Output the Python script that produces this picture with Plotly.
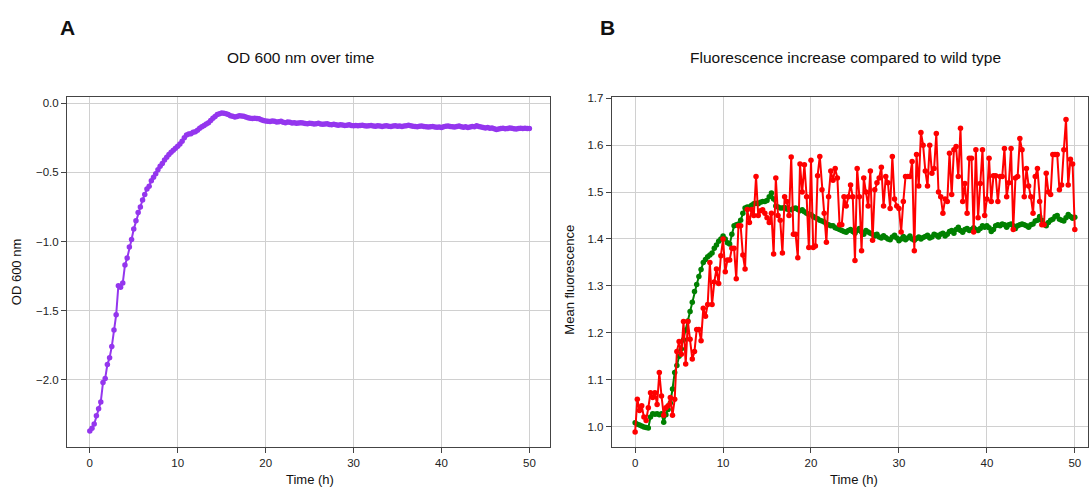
import plotly.graph_objects as go

# ---------------- data ----------------
od600 = [
    -2.37, -2.35, -2.32, -2.26, -2.21, -2.16, -2.02, -1.99, -1.89, -1.84, -1.76, -1.64, -1.53,
    -1.32, -1.33, -1.30, -1.17, -1.12, -1.04, -0.985, -0.91, -0.85, -0.79, -0.75, -0.70,
    -0.66, -0.62, -0.60, -0.56, -0.535, -0.51, -0.48, -0.455, -0.435, -0.41, -0.39, -0.37,
    -0.355, -0.34, -0.325, -0.31, -0.295, -0.275, -0.25, -0.23, -0.222, -0.22, -0.21, -0.205,
    -0.195, -0.18, -0.17, -0.16, -0.15, -0.14, -0.125, -0.108, -0.095, -0.082, -0.075, -0.07,
    -0.072, -0.075, -0.082, -0.09, -0.094, -0.1, -0.095, -0.09, -0.092, -0.094, -0.1, -0.104,
    -0.108, -0.11, -0.108, -0.11, -0.112, -0.12, -0.125, -0.128,
    -0.13, -0.132, -0.128, -0.13, -0.135, -0.133, -0.13, -0.138, -0.14, -0.136, -0.138, -0.142,
    -0.14, -0.145, -0.142, -0.14,
    -0.143, -0.146, -0.148, -0.145, -0.147, -0.15, -0.148, -0.145, -0.15, -0.152, -0.15, -0.148,
    -0.153, -0.155, -0.152, -0.156, -0.158, -0.155, -0.157, -0.16, -0.158, -0.156, -0.16, -0.162,
    -0.16, -0.163, -0.16, -0.158, -0.162, -0.165, -0.163, -0.16, -0.164, -0.166, -0.162, -0.165,
    -0.168, -0.164, -0.162, -0.166, -0.168, -0.165, -0.163, -0.167,
    -0.165, -0.168, -0.165, -0.162, -0.158, -0.163, -0.166, -0.168, -0.17, -0.167, -0.165, -0.168,
    -0.17, -0.172, -0.17, -0.168, -0.172, -0.174, -0.172, -0.175,
    -0.17, -0.166, -0.165, -0.168, -0.17, -0.172, -0.168, -0.165, -0.17, -0.173, -0.17, -0.175,
    -0.172, -0.168, -0.17, -0.162, -0.168, -0.172, -0.176, -0.178,
    -0.175, -0.18, -0.178, -0.185, -0.19, -0.186, -0.182, -0.18, -0.184, -0.182, -0.178, -0.18,
    -0.184, -0.186, -0.183, -0.18, -0.182, -0.18, -0.183, -0.182,
]

fluor_wt_ref = [
    1.008, 1.005, 1.003, 1.001, 0.999, 0.998, 0.997, 1.02, 1.027, 1.026, 1.027, 1.025, 1.027,
    1.009, 1.025, 1.036, 1.05, 1.08, 1.115, 1.13, 1.15, 1.165, 1.185, 1.205, 1.225,
    1.245, 1.265, 1.288, 1.303, 1.32, 1.335, 1.35, 1.356, 1.362, 1.366, 1.37, 1.38,
    1.387, 1.395, 1.40, 1.406, 1.40, 1.392, 1.389, 1.41, 1.428, 1.43, 1.432, 1.44,
    1.455, 1.466, 1.468, 1.468, 1.472, 1.475, 1.476, 1.475, 1.478, 1.48, 1.48, 1.482,
    1.49, 1.498, 1.485, 1.47, 1.468, 1.466, 1.466, 1.467, 1.464, 1.462, 1.462, 1.465,
    1.466, 1.463, 1.46, 1.462, 1.458, 1.455, 1.452, 1.452,
    1.448, 1.445, 1.443, 1.44, 1.438, 1.436, 1.432, 1.43, 1.428, 1.428, 1.424, 1.422,
    1.42, 1.418, 1.416, 1.414, 1.418, 1.42, 1.416, 1.412, 1.418, 1.422, 1.415, 1.41,
    1.418, 1.415, 1.412, 1.41, 1.406, 1.41, 1.404, 1.402, 1.407, 1.403, 1.40, 1.398,
    1.404, 1.408, 1.402, 1.396, 1.40, 1.405, 1.398, 1.402, 1.406, 1.40, 1.397, 1.401,
    1.404, 1.40, 1.403, 1.405, 1.408, 1.402, 1.404, 1.41, 1.408, 1.404, 1.41, 1.412,
    1.406, 1.41, 1.416, 1.418, 1.412, 1.42, 1.425, 1.418, 1.414, 1.42, 1.422, 1.418,
    1.42, 1.424, 1.42, 1.418, 1.422, 1.428, 1.425, 1.428, 1.424, 1.416, 1.42, 1.428,
    1.43, 1.428, 1.432, 1.43, 1.425, 1.43, 1.432, 1.428, 1.422, 1.428, 1.43, 1.432,
    1.43, 1.428, 1.425, 1.43, 1.432, 1.438, 1.44, 1.448, 1.44, 1.432, 1.428, 1.435,
    1.44, 1.442, 1.448, 1.45, 1.442, 1.44, 1.438, 1.445, 1.452, 1.448, 1.444, 1.446,
]

fluor_mutant = [
    0.988, 1.058, 1.034, 1.044, 1.02, 1.013, 1.04, 1.072, 1.062, 1.072, 1.047, 1.115, 1.065,
    1.024, 1.04, 1.044, 1.062, 1.024, 1.058, 1.16, 1.181, 1.154, 1.224, 1.133, 1.224,
    1.186, 1.144, 1.16, 1.207, 1.207, 1.183, 1.252, 1.235, 1.26, 1.35, 1.26, 1.308,
    1.336, 1.305, 1.364, 1.40, 1.33, 1.355, 1.355, 1.38, 1.38, 1.315, 1.428, 1.428,
    1.366, 1.336, 1.463, 1.435, 1.463, 1.45, 1.533, 1.45, 1.46, 1.462, 1.455, 1.445,
    1.435, 1.455, 1.368, 1.53, 1.45, 1.44, 1.37, 1.49, 1.48, 1.45, 1.575, 1.41,
    1.41, 1.36, 1.56, 1.50, 1.558, 1.49, 1.382, 1.568,
    1.382, 1.385, 1.535, 1.576, 1.505, 1.455, 1.393, 1.49, 1.545, 1.525, 1.55, 1.53,
    1.43, 1.43, 1.49, 1.47, 1.49, 1.515, 1.49, 1.354, 1.55, 1.49, 1.375, 1.53,
    1.50, 1.47, 1.545, 1.397, 1.505, 1.52, 1.53, 1.553, 1.47, 1.533, 1.52, 1.465,
    1.576, 1.485, 1.47, 1.465, 1.415, 1.48, 1.533, 1.533, 1.533, 1.565, 1.375, 1.58,
    1.513, 1.627, 1.60, 1.545, 1.513, 1.60, 1.54, 1.55, 1.625, 1.50, 1.49, 1.455,
    1.485, 1.48, 1.583, 1.495, 1.59, 1.597, 1.533, 1.636, 1.48, 1.518, 1.455, 1.572,
    1.572, 1.415, 1.59, 1.445, 1.518, 1.59, 1.45, 1.485, 1.572, 1.48, 1.535, 1.535,
    1.48, 1.533, 1.533, 1.593, 1.49, 1.52, 1.593, 1.42, 1.53, 1.533, 1.614, 1.59,
    1.49, 1.55, 1.513, 1.49, 1.455, 1.533, 1.55, 1.48, 1.43, 1.43, 1.54, 1.50,
    1.495, 1.58, 1.58, 1.58, 1.505, 1.515, 1.59, 1.655, 1.515, 1.57, 1.56, 1.42,
]

time_od = [0.25 * i for i in range(len(od600))]
time_wt = [0.25 * i for i in range(len(fluor_wt_ref))]
time_mut = [0.25 * i for i in range(len(fluor_mutant))]

x_ticks = [0, 10, 20, 30, 40, 50]
od_ticks = [0.0, -0.5, -1.0, -1.5, -2.0]
fl_ticks = [1.0, 1.1, 1.2, 1.3, 1.4, 1.5, 1.6, 1.7]

PURPLE = "#9436EE"
GREEN = "#008000"
RED = "#FF0000"

W, H = 1089, 487
FONT = "Liberation Sans, Arial, sans-serif"

def px_x(p):
    return p / W

def px_y(p):
    return 1 - p / H

fig = go.Figure()
fig.add_trace(go.Scatter(x=time_od, y=od600, mode="lines+markers",
                         line=dict(color=PURPLE, width=2), marker=dict(color=PURPLE, size=5.5),
                         xaxis="x", yaxis="y", showlegend=False))
fig.add_trace(go.Scatter(x=time_wt, y=fluor_wt_ref, mode="lines+markers",
                         line=dict(color=GREEN, width=2), marker=dict(color=GREEN, size=5.5),
                         xaxis="x2", yaxis="y2", showlegend=False))
fig.add_trace(go.Scatter(x=time_mut, y=fluor_mutant, mode="lines+markers",
                         line=dict(color=RED, width=2), marker=dict(color=RED, size=5.5),
                         xaxis="x2", yaxis="y2", showlegend=False))

ydom = [px_y(446.7), px_y(93.3)]
axis_common = dict(showline=True, linecolor="#444444", linewidth=1, mirror=True,
                   showgrid=True, gridcolor="#d0d0d0", gridwidth=1, zeroline=False,
                   ticks="outside", ticklen=5, tickcolor="#444444",
                   tickfont=dict(size=11.5, color="#222222", family=FONT))

fig.update_layout(
    width=W, height=H,
    margin=dict(l=0, r=0, t=0, b=0),
    paper_bgcolor="white", plot_bgcolor="white",
    font=dict(family=FONT, color="#222222"),
    xaxis=dict(domain=[px_x(67), px_x(551)], range=[-2.6, 52.4], tickvals=x_ticks,
               anchor="y", **axis_common),
    yaxis=dict(domain=ydom, range=[-2.487, 0.043], tickvals=od_ticks, tickformat=".1f",
               anchor="x", **axis_common),
    xaxis2=dict(domain=[px_x(612.3), 1.0], range=[-2.66, 51.5], tickvals=x_ticks,
                anchor="y2", **axis_common),
    yaxis2=dict(domain=ydom, range=[0.956, 1.702], tickvals=fl_ticks, tickformat=".1f",
                anchor="x2", **axis_common),
)

ann = [
    dict(text="<b>A</b>", x=px_x(68), y=px_y(23), size=21, xanchor="center"),
    dict(text="<b>B</b>", x=px_x(608), y=px_y(23), size=21, xanchor="center"),
    dict(text="OD 600 nm over time", x=px_x(301), y=px_y(53), size=15.5, xanchor="center"),
    dict(text="Fluorescence increase compared to wild type", x=px_x(846), y=px_y(53), size=15.5,
         xanchor="center"),
    dict(text="Time (h)", x=px_x(310), y=px_y(479), size=13, xanchor="center"),
    dict(text="Time (h)", x=px_x(855), y=px_y(479), size=13, xanchor="center"),
]
for a in ann:
    fig.add_annotation(text=a["text"], x=a["x"], y=a["y"], xref="paper", yref="paper",
                       xanchor=a["xanchor"], yanchor="middle", showarrow=False,
                       font=dict(size=a["size"], color="#111111", family=FONT))

fig.add_annotation(text="OD 600 nm", x=px_x(16), y=px_y(270), xref="paper", yref="paper",
                   textangle=-90, showarrow=False, xanchor="center", yanchor="middle",
                   font=dict(size=13, color="#111111", family=FONT))
fig.add_annotation(text="Mean fluorescence", x=px_x(570), y=px_y(277), xref="paper", yref="paper",
                   textangle=-90, showarrow=False, xanchor="center", yanchor="middle",
                   font=dict(size=13, color="#111111", family=FONT))

# remove the default page margin so the 1089x487 figure fills the window exactly
fig.write_html("out.html", config={"displayModeBar": False},
               post_script="document.body.style.margin='0';document.body.style.overflow='hidden';")
